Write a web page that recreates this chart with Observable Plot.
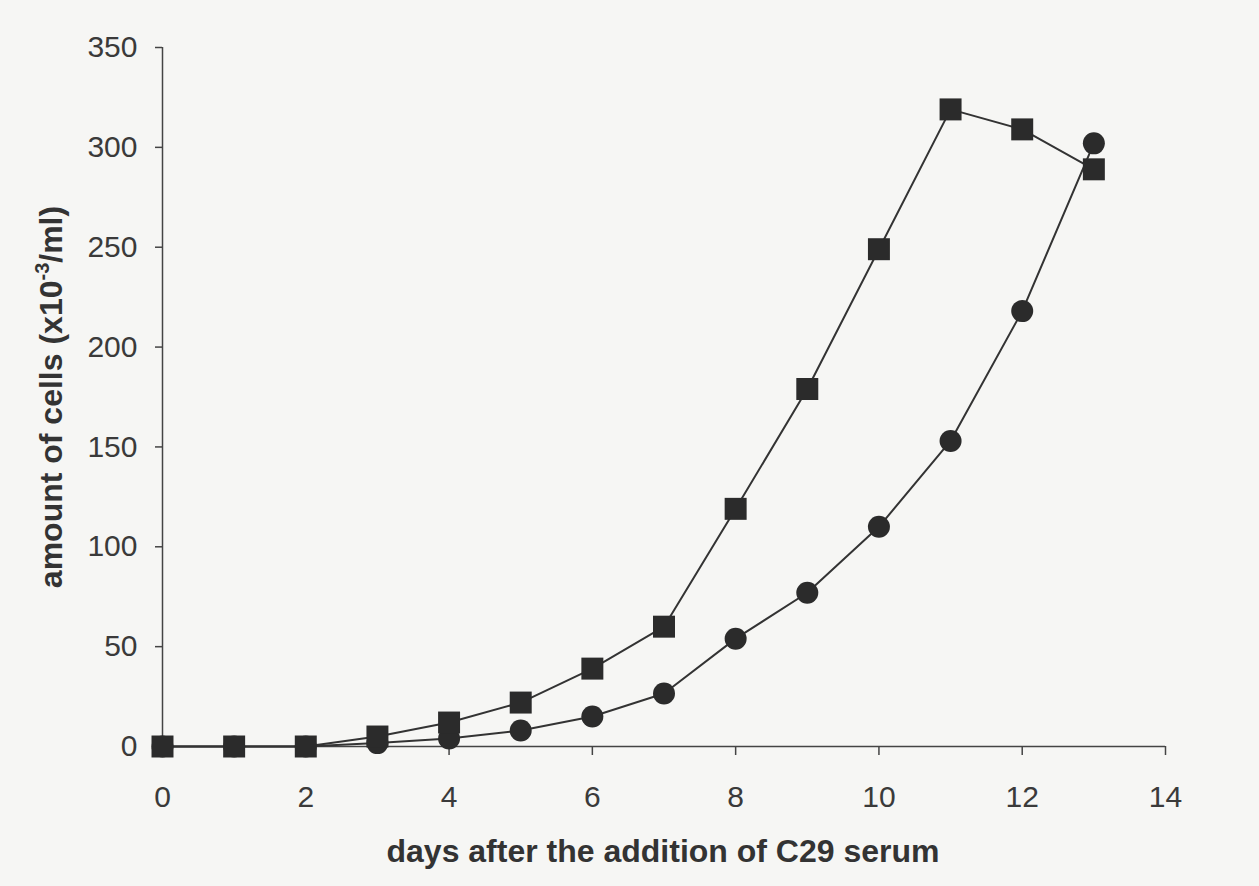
<!DOCTYPE html>
<html>
<head>
<meta charset="utf-8">
<script src="https://cdn.jsdelivr.net/npm/d3@7"></script>
<script src="https://cdn.jsdelivr.net/npm/@observablehq/plot@0.6"></script>
<style>
  html, body { margin: 0; padding: 0; background: #f6f6f4; }
  #chart { width: 1259px; height: 886px; }
</style>
</head>
<body>
<div id="chart"></div>
<script>
const days = [0, 1, 2, 3, 4, 5, 6, 7, 8, 9, 10, 11, 12, 13];
const squareValues = [0, 0, 0, 5, 12, 22, 39, 60, 119, 179, 249, 319, 309, 289];
const circleValues = [0, 0, 0, 1.7, 4, 8, 15, 26.5, 54, 77, 110, 153, 218, 302];
const xTicks = [0, 2, 4, 6, 8, 10, 12, 14];
const yTicks = [0, 50, 100, 150, 200, 250, 300, 350];
const xLabel = "days after the addition of C29 serum";
const yLabelMain = "amount of cells (x10";
const yLabelSup = "-3";
const yLabelEnd = "/ml)";

const squares = days.map((d, i) => ({day: d, value: squareValues[i]}));
const circles = days.map((d, i) => ({day: d, value: circleValues[i]}));

const markColor = "#2b2b2b";
const lineColor = "#333";

const chart = Plot.plot({
  width: 1259,
  height: 886,
  marginLeft: 162,
  marginRight: 94,
  marginTop: 47,
  marginBottom: 140,
  x: {domain: [0, 14]},
  y: {domain: [0, 350]},
  style: {background: "#f6f6f4", fontFamily: "'Liberation Sans', Arial, sans-serif", fontSize: "30px", color: "#3a3a3a"},
  marks: [
    Plot.ruleY([0], {stroke: "#444", strokeWidth: 1.5}),
    Plot.ruleX([0], {stroke: "#444", strokeWidth: 1.5}),
    Plot.axisX({ticks: xTicks, tickSize: 9, tickPadding: 30, label: null, stroke: "#444", strokeWidth: 1.5, fill: "#3a3a3a"}),
    Plot.axisY({ticks: yTicks, tickSize: 7, tickPadding: 18, label: null, stroke: "#444", strokeWidth: 1.5, fill: "#3a3a3a"}),
    Plot.line(circles, {x: "day", y: "value", stroke: lineColor, strokeWidth: 2}),
    Plot.line(squares, {x: "day", y: "value", stroke: lineColor, strokeWidth: 2}),
    Plot.dot(circles, {x: "day", y: "value", r: 11, fill: markColor, stroke: "none"}),
    Plot.dot(squares, {x: "day", y: "value", symbol: "square", r: 12.4, fill: markColor, stroke: "none"})
  ]
});

const svg = d3.select(chart);
svg.append("text")
  .attr("x", 663)
  .attr("y", 862)
  .attr("text-anchor", "middle")
  .attr("font-weight", "bold")
  .attr("font-size", 32)
  .attr("fill", "#333")
  .text(xLabel);

const yl = svg.append("text")
  .attr("transform", "translate(62,397) rotate(-90)")
  .attr("text-anchor", "middle")
  .attr("font-weight", "bold")
  .attr("font-size", 32)
  .attr("fill", "#333");
yl.append("tspan").text(yLabelMain);
yl.append("tspan").attr("font-size", 20).attr("dy", -13).text(yLabelSup);
yl.append("tspan").attr("dy", 13).text(yLabelEnd);

document.getElementById("chart").appendChild(chart);
</script>
</body>
</html>
